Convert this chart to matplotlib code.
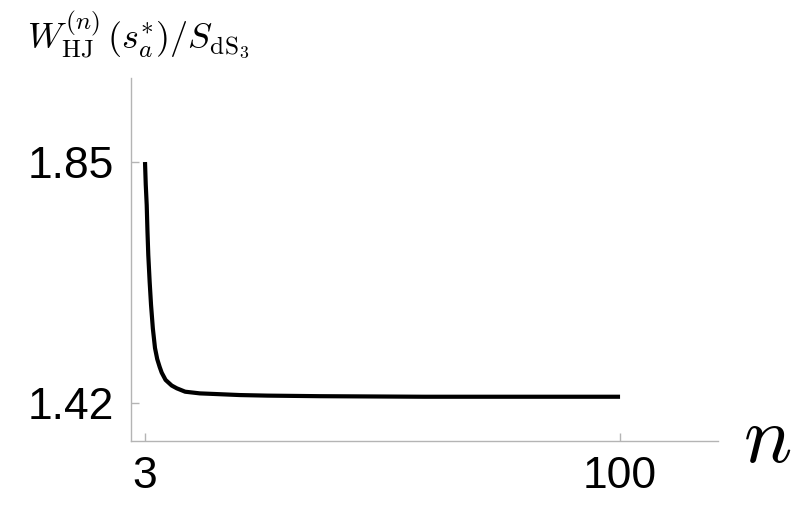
import matplotlib
matplotlib.use("Agg")
import matplotlib.pyplot as plt

# data
n_vals = [3.0, 3.15, 3.35, 3.5, 3.67, 3.95, 4.23, 4.6, 5.04, 5.5, 6.0, 6.41, 7.2, 8.45,
          9.5, 11.2, 14.2, 17.0, 22.4, 28.0, 38.7, 60.0, 80.0, 100.0]
w_vals = [1.850, 1.810, 1.773, 1.727, 1.684, 1.636, 1.595, 1.553, 1.518, 1.498, 1.484, 1.474,
          1.461, 1.451, 1.446, 1.440, 1.437, 1.436, 1.434, 1.433, 1.432, 1.431, 1.431, 1.431]

xticks = [3, 100]
xtick_labels = ["3", "100"]
yticks = [1.42, 1.85]
ytick_labels = ["1.42", "1.85"]

W, H = 798, 513
fig = plt.figure(figsize=(W / 100, H / 100), dpi=100)
left, right, bottom, top = 131, 718, 441, 78
ax = fig.add_axes([left / W, (H - bottom) / H, (right - left) / W, (bottom - top) / H])

ax.plot(n_vals, w_vals, color="black", lw=3, solid_capstyle="butt", solid_joinstyle="round")

ax.set_xlim(0.14, 120)
ax.set_ylim(1.352, 2.0)
for s in ["top", "right"]:
    ax.spines[s].set_visible(False)
for s in ["left", "bottom"]:
    ax.spines[s].set_color("#b4b4b4")
    ax.spines[s].set_linewidth(1.0)

ax.set_xticks(xticks)
ax.set_xticklabels(xtick_labels, family="Liberation Sans", fontsize=32)
ax.set_yticks(yticks)
ax.set_yticklabels(ytick_labels, family="Liberation Sans", fontsize=32)
ax.tick_params(axis="both", direction="in", length=6, width=1, color="#b4b4b4")
ax.tick_params(axis="x", pad=11)
ax.tick_params(axis="y", pad=12)

plt.rcParams["mathtext.fontset"] = "cm"
fig.text(27 / W, 1 - 35 / H, r"$W^{(n)}_{\mathrm{HJ}}\,(s_a^{*})/S_{\mathrm{dS}_3}$",
         fontsize=26, ha="left", va="center", math_fontfamily="cm")
fig.text(767 / W, 1 - 440 / H, r"$n$", fontsize=58, ha="center", va="center", math_fontfamily="cm")

fig.savefig("out.png", dpi=100)
